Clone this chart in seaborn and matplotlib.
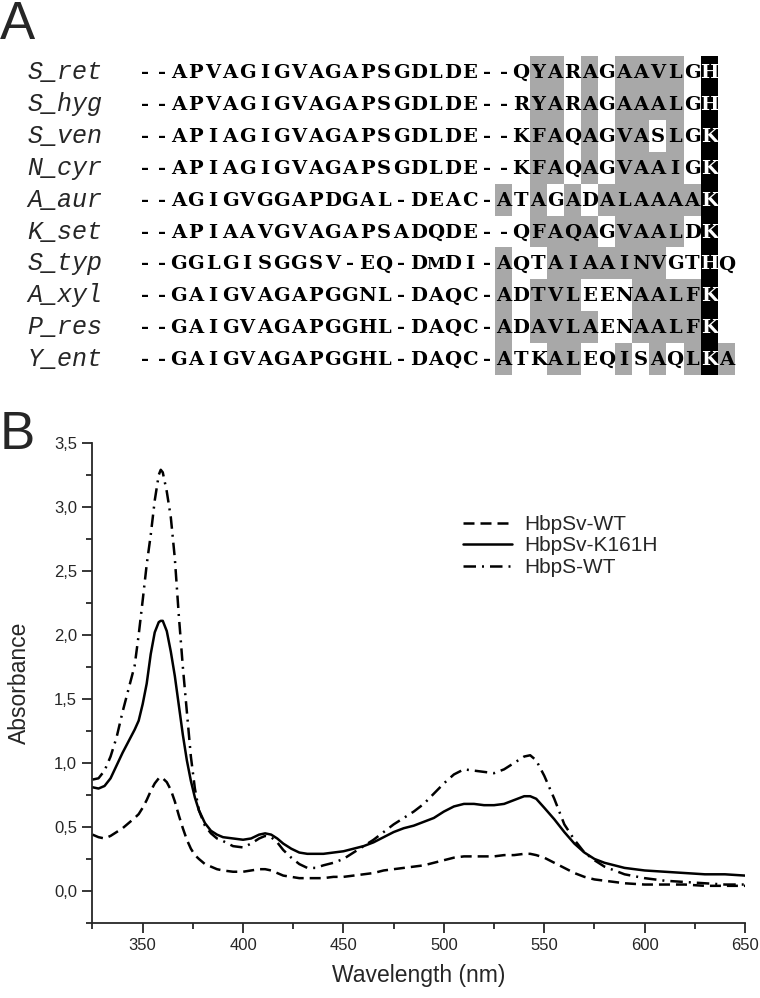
import numpy as np
import pandas as pd
import matplotlib
matplotlib.use("Agg")
import matplotlib.pyplot as plt
import seaborn as sns
from matplotlib.colors import ListedColormap
from matplotlib.ticker import MultipleLocator

# -----------------------------
# Panel A: alignment
# -----------------------------
species = ["S_ret", "S_hyg", "S_ven", "N_cyr", "A_aur",
           "K_set", "S_typ", "A_xyl", "P_res", "Y_ent"]

sequences = [
    "--APVAGIGVAGAPSGDLDE--QYARAGAAVLGH",
    "--APVAGIGVAGAPSGDLDE--RYARAGAAALGH",
    "--APIAGIGVAGAPSGDLDE--KFAQAGVASLGK",
    "--APIAGIGVAGAPSGDLDE--KFAQAGVAAIGK",
    "--AGIGVGGAPDGAL-DEAC-ATAGADALAAAAK",
    "--APIAAVGVAGAPSADQDE--QFAQAGVAALDK",
    "--GGLGISGGSV-EQ-DMDI-AQTAIAAINVGTHQ",
    "--GAIGVAGAPGGNL-DAQC-ADTVLEENAALFK",
    "--GAIGVAGAPGGHL-DAQC-ADAVLAENAALFK",
    "--GAIGVAGAPGGHL-DAQC-ATKALEQISAQLKA",
]

# shading of the last 14 alignment columns: 0 none, 1 grey, 2 black
shading = [
    "00110101111020",
    "00110101111020",
    "00110101101020",
    "00110101111020",
    "10101011111120",
    "00111101111020",
    "10011111110020",
    "10111000111120",
    "10111100111120",
    "10011001010121",
]

# -----------------------------
# Panel B: absorption spectra
# -----------------------------
wavelength = [325, 328, 331, 334, 337, 340, 343, 346, 348, 350, 352, 354, 356, 358, 359, 360,
              362, 364, 366, 368, 370, 372, 374, 376, 378, 381, 384, 387, 390, 395, 400, 404,
              408, 411, 414, 417, 420, 424, 428, 432, 436, 440, 445, 450, 455, 460, 465, 470,
              475, 480, 485, 490, 495, 500, 505, 510, 515, 520, 525, 530, 535, 540, 543, 546,
              550, 555, 560, 565, 570, 575, 580, 590, 600, 610, 620, 630, 640, 650]

abs_sv_wt = [0.44, 0.42, 0.41, 0.43, 0.46, 0.49, 0.53, 0.57, 0.60, 0.65, 0.71, 0.78, 0.84, 0.88, 0.89, 0.88,
             0.85, 0.79, 0.70, 0.59, 0.49, 0.40, 0.33, 0.28, 0.25, 0.21, 0.19, 0.17, 0.16, 0.15, 0.15, 0.16,
             0.17, 0.17, 0.16, 0.14, 0.12, 0.11, 0.10, 0.10, 0.10, 0.10, 0.11, 0.11, 0.12, 0.13, 0.14, 0.16,
             0.17, 0.18, 0.19, 0.20, 0.22, 0.24, 0.26, 0.27, 0.27, 0.27, 0.27, 0.28, 0.28, 0.29, 0.29, 0.28,
             0.26, 0.22, 0.18, 0.14, 0.11, 0.09, 0.08, 0.06, 0.05, 0.05, 0.05, 0.04, 0.04, 0.04]

abs_sv_k161h = [0.81, 0.80, 0.82, 0.88, 0.98, 1.08, 1.17, 1.26, 1.33, 1.46, 1.62, 1.85, 2.02, 2.10, 2.11, 2.11,
                2.03, 1.87, 1.68, 1.45, 1.22, 1.02, 0.86, 0.73, 0.63, 0.53, 0.47, 0.44, 0.42, 0.41, 0.40, 0.41,
                0.44, 0.45, 0.44, 0.41, 0.37, 0.33, 0.30, 0.29, 0.29, 0.29, 0.30, 0.31, 0.33, 0.35, 0.38, 0.42,
                0.46, 0.49, 0.51, 0.54, 0.57, 0.62, 0.66, 0.68, 0.68, 0.67, 0.67, 0.68, 0.71, 0.74, 0.74, 0.72,
                0.65, 0.56, 0.46, 0.37, 0.30, 0.25, 0.22, 0.18, 0.16, 0.15, 0.14, 0.13, 0.13, 0.12]

abs_s_wt = [0.87, 0.88, 0.94, 1.05, 1.20, 1.40, 1.58, 1.76, 2.00, 2.27, 2.55, 2.78, 3.05, 3.25, 3.29, 3.27,
            3.12, 2.92, 2.60, 2.15, 1.75, 1.40, 1.05, 0.80, 0.63, 0.51, 0.45, 0.41, 0.39, 0.35, 0.34, 0.37,
            0.41, 0.43, 0.42, 0.38, 0.32, 0.26, 0.21, 0.18, 0.18, 0.20, 0.22, 0.25, 0.30, 0.35, 0.40, 0.46,
            0.52, 0.57, 0.62, 0.68, 0.76, 0.84, 0.91, 0.95, 0.94, 0.93, 0.92, 0.95, 1.00, 1.05, 1.06, 1.02,
            0.90, 0.72, 0.52, 0.40, 0.30, 0.24, 0.19, 0.13, 0.10, 0.08, 0.07, 0.06, 0.05, 0.05]

sample_names = ["HbpSv-WT", "HbpSv-K161H", "HbpS-WT"]
x_ticks = [350, 400, 450, 500, 550, 600, 650]
y_ticks = [0.0, 0.5, 1.0, 1.5, 2.0, 2.5, 3.0, 3.5]

# -----------------------------
# Style
# -----------------------------
sns.set_style("ticks")
plt.rcParams["font.family"] = ["Liberation Sans", "DejaVu Sans"]

fig = plt.figure(figsize=(7.6, 9.98), dpi=100)

# -----------------------------
# Alignment as a heatmap of shade codes
# -----------------------------
n_cols = max(len(s) for s in sequences)
letters = np.array([list(s.ljust(n_cols)) for s in sequences])
shade = np.zeros(letters.shape, dtype=int)
first_shaded = n_cols - len(shading[0])
for i, row in enumerate(shading):
    shade[i, first_shaded:] = [int(c) for c in row]

ax_a = fig.add_axes([0.1789, 0.6242, 0.788, 0.3196])
sns.heatmap(shade, cmap=ListedColormap(["white", "#a8a8a8", "black"]),
            vmin=-0.5, vmax=2.5, cbar=False, ax=ax_a,
            xticklabels=False, yticklabels=species)

for i in range(letters.shape[0]):
    for j in range(letters.shape[1]):
        ch = letters[i, j]
        ax_a.text(j + 0.5, i + 0.69, ch, ha="center", va="baseline",
                  family="DejaVu Serif", weight="bold",
                  fontsize=12 if ch in "MW" else 14,
                  color="white" if shade[i, j] == 2 else "black")

ax_a.tick_params(axis="y", length=0, pad=24)
for lab in ax_a.get_yticklabels():
    lab.set_family("Liberation Mono")
    lab.set_style("italic")
    lab.set_fontsize(18)
    lab.set_rotation(0)

fig.text(0.0, 1.0, "A", ha="left", va="top", fontsize=38)
fig.text(0.0, 0.589, "B", ha="left", va="top", fontsize=38)

# -----------------------------
# Spectra
# -----------------------------
df = pd.DataFrame({"wavelength": wavelength,
                   "HbpSv-WT": abs_sv_wt,
                   "HbpSv-K161H": abs_sv_k161h,
                   "HbpS-WT": abs_s_wt})
long = df.melt(id_vars="wavelength", var_name="sample", value_name="absorbance")

ax_b = fig.add_axes([0.1217, 0.0752, 0.8586, 0.481])
sns.lineplot(data=long, x="wavelength", y="absorbance", style="sample",
             style_order=sample_names,
             dashes={"HbpSv-WT": (4.4, 2.4), "HbpSv-K161H": "", "HbpS-WT": (5, 2.4, 0.8, 2.4)},
             color="black", linewidth=1.8, estimator=None, legend=False, ax=ax_b)

ax_b.legend(ax_b.lines[:3], sample_names, loc="upper left", bbox_to_anchor=(0.568, 0.85),
            frameon=False, fontsize=15, handlelength=2.35, handletextpad=0.6,
            labelspacing=0.12, borderpad=0, borderaxespad=0)

ax_b.set_xlim(325, 650)
ax_b.set_ylim(-0.25, 3.5)
ax_b.set_xticks(x_ticks)
ax_b.set_yticks(y_ticks)
ax_b.set_yticklabels([f"{v:.1f}".replace(".", ",") for v in y_ticks])
ax_b.xaxis.set_minor_locator(MultipleLocator(25))
ax_b.yaxis.set_minor_locator(MultipleLocator(0.25))
ax_b.tick_params(which="major", length=7, width=1.3, labelsize=12, pad=4)
ax_b.tick_params(which="minor", length=4, width=1.3)
sns.despine(ax=ax_b)
for sp in ax_b.spines.values():
    sp.set_linewidth(1.3)

ax_b.set_xlabel("Wavelength (nm)", fontsize=16.5, labelpad=8)
ax_b.set_ylabel("Absorbance", fontsize=16.5, labelpad=17)

fig.savefig("out.png", dpi=100)
